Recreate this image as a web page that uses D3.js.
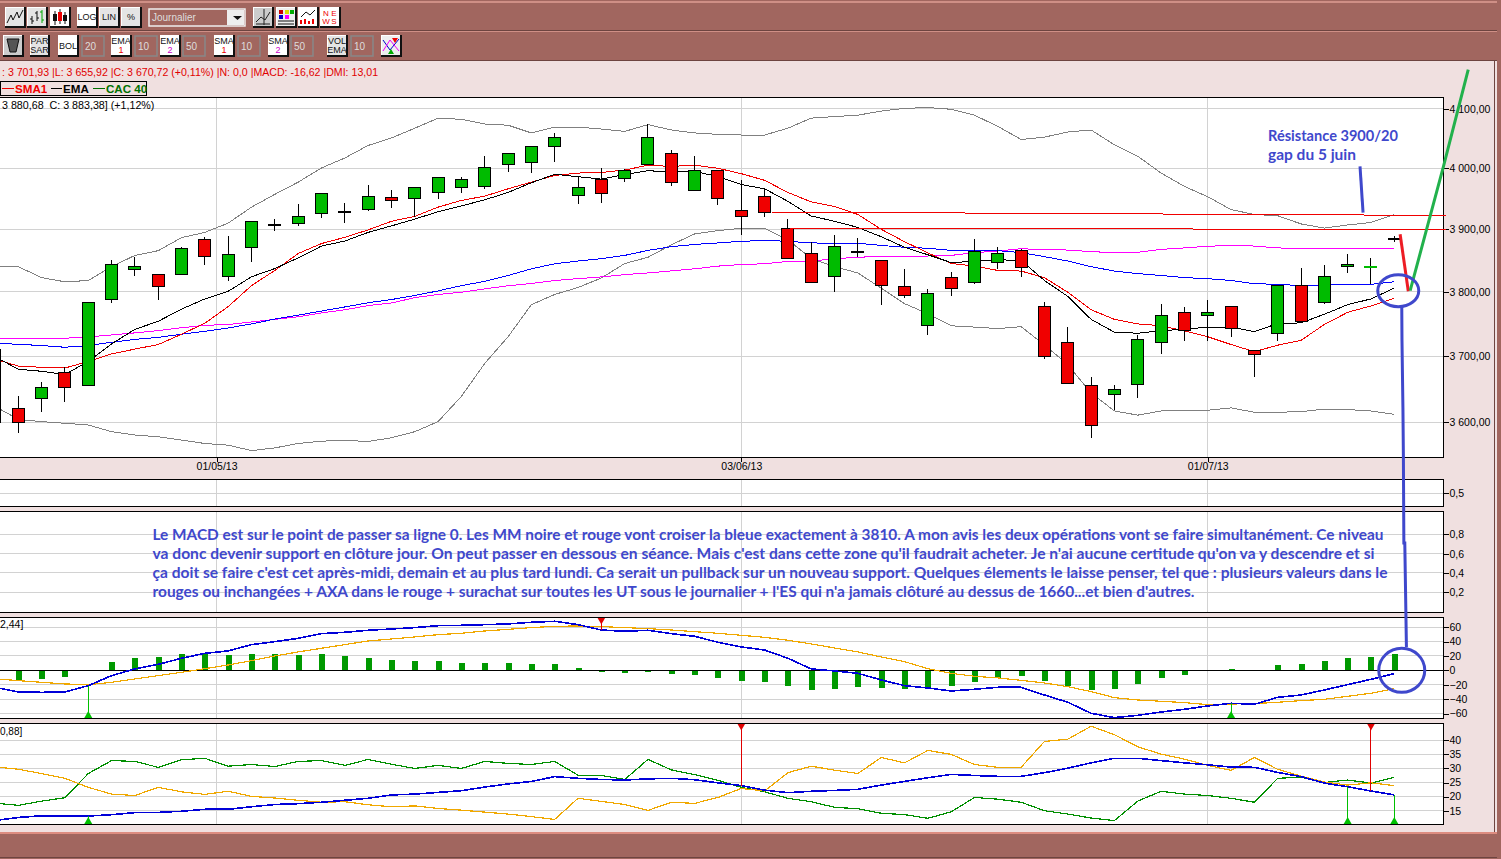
<!DOCTYPE html>
<html>
<head>
<meta charset="utf-8">
<title>CAC 40 journalier</title>
<script src="https://cdn.jsdelivr.net/npm/d3@7"></script>
<style>
  html, body { margin: 0; padding: 0; background: #f0e0e0; overflow: hidden; }
  text { font-family: "Liberation Sans", Arial, sans-serif; white-space: pre; }
</style>
</head>
<body>
<svg id="chart"></svg>
<script>
const width = 1501;
const height = 859;

// CANDLES, first one is cut by the left edge (index -1)
const candleOpen = [3600,3620,3635,3675,3656,3788,3835,3827,3827,3884,3825,3871,3908.5,3910,3925,3929,3932,3951,3950,3960,3969,3970,4007,4009,4037,3955,3982,3982.5,4007,4024,3964,3997,3931,3953,3902,3861,3824,3865,3850,3808,3748,3822.5,3815.5,3847,3866,3777,3721.5,3656,3642,3657.5,3721.5,3768,3763,3777,3709,3735,3810,3783,3840,3840,3885];
const candleHigh = [3710,3639,3660,3684,3783,3850.5,3856,3827,3871.5,3887,3889,3914,3916,3941,3958,3943,3973,3964,3968,3984,3986,4021,4024,4037,4059.5,3987,4000,3999,4074.5,4031,4021,3997,3981,3966,3917,3880,3891,3886,3850,3836,3804,3831,3884,3871.5,3869,3783.5,3745.5,3669,3656.5,3732,3780.5,3776,3787,3777,3709,3810,3838,3842,3859.5,3854,3889];
const candleLow = [3600,3584.5,3615,3631,3656,3782.5,3825,3787,3827,3843,3818,3847.5,3898,3905,3919,3910,3930,3935,3920,3950,3959,3965,3993,3991.5,4010,3941,3943,3977,4005.5,3970,3964,3939,3890,3920,3853,3814.5,3799.5,3855,3779,3790,3732,3793,3813,3836,3823,3696,3659,3576,3618.5,3637,3704,3724,3724,3730,3669,3723,3754,3781,3830,3812,3880];
const candleClose = [3710,3600,3653,3653,3783,3843.5,3840,3809,3869,3856,3860,3912,3908.5,3921,3958,3929,3954,3947,3968,3984,3981,4002,4024,4037,4052,3968.5,3958,3996,4052,3976,3997,3950,3921.5,3927,3853,3814.5,3873,3865,3810,3794,3797,3805,3864.5,3861,3839,3700,3659,3595.5,3650,3726,3763,3740,3768,3743,3703,3810,3754,3824,3843,3840.4,3885];

// PRICE OVERLAYS
const sma1 = [3695.5,3685,3683,3682,3692,3703.5,3711,3718,3734,3751,3777,3810,3834,3861,3877,3887,3899,3913,3921,3936,3947,3954,3966,3977,3988,3992,3993,3997,4005,4003,4005,4000,3991,3980,3960,3944.5,3937,3924,3900,3880,3862,3845,3841,3834,3833,3822.5,3799.5,3772,3757,3750,3747,3739,3730,3718,3707,3717,3724.5,3749,3768,3778,3790];
const ema1 = [3699.5,3680,3677,3672,3692,3719,3741.5,3754,3773,3789,3801,3824,3837,3854,3873,3881,3895,3905.5,3916.5,3928.5,3938,3948,3960,3976,3990,3986,3982,3989.5,3996,3993.5,3995,3986,3973,3966,3945.5,3921.5,3913,3903,3888,3871,3859,3846.5,3848.5,3851,3850,3818,3793,3757,3737,3735.5,3739.5,3741.5,3745,3745,3738,3750.5,3751.5,3765,3780,3789,3806];
const ema2 = [3720,3718.4,3716.4,3713.8,3716.4,3721.5,3726,3729,3734,3738.4,3743.6,3750,3757.4,3763.6,3770,3776.4,3783,3788,3794.4,3801.6,3810,3816.7,3826,3836.6,3844.6,3849,3852.7,3858,3866,3872,3875.6,3878,3880.6,3882,3880.6,3878,3877.5,3877.5,3874,3871,3869.5,3866,3865.6,3865.6,3862.4,3856,3849,3840,3833,3829,3826,3822.6,3821,3818,3813,3812,3810,3811,3811,3812,3816];
const sma2 = [3727.7,3726.6,3727,3727.7,3729.7,3732.8,3736,3739.5,3744,3747.7,3749,3753,3757,3761,3767,3772,3778.5,3782.6,3791,3796,3799.5,3804.8,3809.7,3813.4,3818,3821,3823.7,3827.4,3830,3833.3,3836.6,3840.9,3843.5,3844.6,3848.4,3849,3852.7,3855,3856.5,3857,3857,3858,3862.4,3865,3868.8,3867,3866.6,3864,3862.4,3863,3867.7,3870,3872.6,3874,3873,3870,3868.8,3869,3869,3869,3869];
const bolUp = [3840,3840,3822.6,3816,3818,3840,3858,3865.6,3886.6,3895,3910,3936,3957,3977,4000.5,4017,4038,4050.5,4067,4084,4082,4074,4072,4059,4069,4069,4065.5,4061.6,4073,4064,4059,4056.6,4055.5,4055.5,4067,4084,4086.7,4089,4096,4100.5,4102,4099,4089,4070,4048,4052,4060.5,4064,4039,4020,3992,3970,3953,3932,3924,3922,3908.7,3902,3907,3911,3924];
const bolLow = [3623.7,3604.5,3601,3598.5,3596,3586,3581,3578.5,3573.5,3568.5,3566,3558,3562,3568.5,3572,3573,3571.5,3577,3586,3601,3639,3689,3730,3780,3796,3807,3822,3845,3855,3875,3892.5,3898,3901.5,3901.5,3883,3853,3840,3830,3806,3781.5,3766,3747,3745,3742.7,3745.6,3717.4,3687,3644,3617,3610.7,3617,3617,3618,3621.6,3615,3615,3616,3619.7,3619,3617,3612];

// MACD PANEL
const macdLine = [-23.6,-30.1,-30.6,-30.1,-21.3,-7.4,1.9,8.3,16.7,23.6,26.9,35.7,39.8,44.4,50.9,52.8,55.6,57.4,59.3,62,62.5,63.4,64.4,66.7,68.1,63.4,56,54.2,55.6,50.9,47.2,38.9,32.4,28.2,16.7,1.9,-0.9,-4.2,-13.4,-21.3,-24.5,-28.7,-26.4,-23.6,-23.6,-34.3,-44.4,-59.7,-65.7,-62.5,-57.9,-54.2,-49.5,-45.8,-47.2,-37.5,-34.3,-27.3,-19.9,-12.5,-4.6];
const macdSignal = [-11.6,-14.4,-16.7,-19,-19.9,-16.7,-12,-7.4,-2.8,2.3,7.4,13.4,19.9,25.5,30.6,35.7,40.7,43.5,46.3,49.5,51.4,54.6,56.9,59.3,61.1,61.6,60.7,59.3,57.9,56,53.7,51.4,48.6,45.8,41.7,36.6,31,25.5,18.5,12,2.3,-4.2,-8.3,-10.6,-13.9,-17.6,-22.7,-29.6,-38,-41.2,-43,-44.9,-47.7,-46.8,-46.3,-44.4,-42.1,-40.3,-36.1,-31.9,-25.5];
const macdHist = [0,-13.4,-12,-9.2,0,11.5,17,18.5,22.7,23.6,21.3,22.7,22.7,21.3,22.7,19.9,17,14.4,13,13,10.2,10.2,10.2,8.8,8.8,3.2,-1.9,-3.2,-1.9,-4.6,-6,-10.2,-14.4,-15.7,-21.3,-26.8,-25.4,-22.7,-24,-25.4,-24,-21.3,-15.7,-11,-7.4,-14.4,-21.3,-26.8,-25.4,-18.5,-10.2,-6,0,1.9,0,7.4,8.8,13,17,18.5,22.7];
const macdUp = [3, 52];
const macdDown = [25];

// DMI PANEL
const diPlus = [17.7,16.9,18.4,19.6,28.2,32.8,32.5,30.4,33.1,33.6,30.8,31.4,30.7,32.5,32.8,31.1,33.2,31.5,30,31.1,30,32.5,31.8,31.4,32.5,27.6,27.5,26.1,33.2,29.5,27.8,25.8,23.3,21.7,19.4,18.2,16.2,15.7,14.1,13.6,12.3,14.6,19.7,19.1,18,15,13.8,12.4,11.5,18.4,21.9,20.9,20.4,19.4,18,26.5,26.9,25,25.9,24.8,26.9];
const diMinus = [30.6,29.7,28.2,26.5,23.3,20.9,20.4,23.3,21.7,20.8,21.9,20.1,19.5,18.7,18,18.2,17.1,16.4,16.7,15.8,15.2,14.5,13.8,12.9,11.9,19.4,18.3,17.2,15.1,18,17.6,19.7,22.9,22,28.5,30.8,29.4,28.2,33.9,32,36.4,35,31.4,30.4,30.4,39.6,40.4,45,42,37.7,35.1,33.3,31.1,29.3,33.9,29.7,27.3,25.2,24.1,24.9,23.9];
const adx = [11.5,12.6,13.2,13.2,13.1,13.6,14.3,14.4,14.8,15.5,15.5,16.4,17.2,17.5,18,18.7,19.4,20.6,20.9,21.5,22.1,23.4,24.5,25.4,27.1,26.5,26.1,25.9,26.3,26.5,26,24.9,23.9,22.3,21.4,21.9,22.2,22.6,24.1,25.4,26.7,27.9,27.5,27.2,27.2,28.5,30.1,32,33.6,33.6,32.8,32,31.3,30.5,30.4,28.6,27.1,24.8,23.5,22,20.6];
const dmiUp = [3, 57, 59];
const dmiDown = [31, 58];

// TICKS
const priceTicks = [3600, 3700, 3800, 3900, 4000, 4100];
const macdTicks = [-60, -40, -20, 0, 20, 40, 60];
const dmiTicks = [15, 20, 25, 30, 35, 40];
const midTicks = [0.2, 0.4, 0.6, 0.8];
const topTicks = [0.5];
const dateIndex = [8.5, 31, 51];
const dateLabels = ["01/05/13", "03/06/13", "01/07/13"];

// HAND DRAWN NOTES, as [candle index, value]
const resistHigh = [[32.3, 3928], [61.2, 3922.5]];
const resistLow = [[33.1, 3902], [61.2, 3899.5]];
const penRed = [[59.25, 3892], [59.6, 3801]];
const penGreen = [[59.68, 3802], [61.1, 4002], [62.17, 4167]];
const penShort = [[57.53, 4003], [57.66, 3927]];
const penDropPrice = [[59.32, 3777], [59.33, 3723.6], [59.37, 3622], [59.39, 3547]];
const penDropMid = [[59.41, 0.71], [59.45, 0.71]];
const penDropMacd = [[59.52, 32]];
const noteResist = ["Résistance 3900/20", "gap du 5 juin"];
const noteLines = [
  "Le MACD est sur le point de passer sa ligne 0. Les MM noire et rouge vont croiser la bleue exactement à 3810. A mon avis les deux opérations vont se faire simultanément. Ce niveau",
  "va donc devenir support en clôture jour. On peut passer en dessous en séance. Mais c'est dans cette zone qu'il faudrait acheter. Je n'ai aucune certitude qu'on va y descendre et si",
  "ça doit se faire c'est cet après-midi, demain et au plus tard lundi. Ca serait un pullback sur un nouveau support. Quelques élements le laisse penser, tel que : plusieurs valeurs dans le",
  "rouges ou inchangées + AXA dans le rouge + surachat sur toutes les UT sous le journalier + l'ES qui n'a jamais clôturé au dessus de 1660...et bien d'autres."
];
const noteWidths = [1231, 1222, 1235, 1042];

const brown = "#a1665f";
const pink = "#f0e0e0";
const gridColor = "#d2d2d2";
const penBlue = "#3f48cc";
const candleGreen = "#00bb00";
const candleRed = "#f00000";
const plotRight = 1443.5;

const svg = d3.select("#chart")
  .attr("width", width)
  .attr("height", height)
  .attr("viewBox", [0, 0, width, height])
  .style("display", "block");

// Shared x scale, one unit is one trading day
const x = d3.scaleLinear().domain([0, 59]).range([18.3, 1394.3]);
const series = i => i - 1; // position in the arrays -> candle index

const y = d3.scaleLog().domain([4100, 3600]).range([108.7, 422.3]);
const yTop = d3.scaleLinear().domain([0, 1]).range([507.5, 479.1]);
const yMid = d3.scaleLinear().domain([0, 0.8]).range([611.6, 534.3]);
const yMacd = d3.scaleLinear().domain([0, 60]).range([670.3, 627.1]);
const yDmi = d3.scaleLinear().domain([15, 40]).range([810.7, 740.3]);

const fr = d3.formatLocale({ decimal: ",", thousands: " ", grouping: [3], currency: ["", ""] });

// ---- window background and toolbars ----
svg.append("rect").attr("width", width).attr("height", height).attr("fill", pink);
svg.append("rect").attr("width", width).attr("height", 61).attr("fill", brown);
svg.append("rect").attr("y", 1).attr("width", width).attr("height", 2).attr("fill", "#cf8f86");
svg.append("rect").attr("y", 30).attr("width", width).attr("height", 1).attr("fill", "#6d4440");
svg.append("rect").attr("y", 31).attr("width", width).attr("height", 1).attr("fill", "#cf8f86");
svg.append("rect").attr("y", 60).attr("width", width).attr("height", 1).attr("fill", "#6d4440");
svg.append("rect").attr("y", 832).attr("width", width).attr("height", 27).attr("fill", brown);
svg.append("rect").attr("y", 832).attr("width", width).attr("height", 2).attr("fill", "#dd8c80");
svg.append("rect").attr("y", 857).attr("width", width).attr("height", 1).attr("fill", "#6d4440");
svg.append("rect").attr("x", 1494).attr("width", 1).attr("y", 61).attr("height", 771).attr("fill", "#6d4440");
svg.append("rect").attr("x", 1497).attr("width", 4).attr("y", 0).attr("height", height).attr("fill", brown);

const toolbar = svg.append("g");

function button(bx, by, w, h, bg) {
  const g = toolbar.append("g").attr("transform", `translate(${bx},${by})`);
  g.append("rect").attr("width", w).attr("height", h).attr("fill", bg).attr("stroke", "#fff").attr("shape-rendering", "crispEdges");
  g.append("path").attr("d", `M${w} 0V${h}H0`).attr("fill", "none").attr("stroke", "#111").attr("stroke-width", 2).attr("shape-rendering", "crispEdges");
  return g;
}

function label(g, lines, w, h, color) {
  const step = 9;
  lines.forEach((s, i) => {
    g.append("text")
      .attr("x", w / 2)
      .attr("y", h / 2 + 3 + (i - (lines.length - 1) / 2) * step)
      .attr("text-anchor", "middle")
      .attr("font-size", 9)
      .attr("fill", i === 1 && color ? color : "#111")
      .text(s);
  });
}

function field(fx, by, w, s) {
  toolbar.append("rect").attr("x", fx).attr("y", by).attr("width", w).attr("height", 20)
    .attr("fill", brown).attr("stroke", "#888").attr("stroke-width", 1.5);
  toolbar.append("text").attr("x", fx + 3).attr("y", by + 14).attr("font-size", 10).attr("fill", "#ddd").text(s);
}

// first row
let b = button(5, 7, 20, 20, "#e4e4e4");
b.append("path").attr("d", "M2 16L6 8L8 13L12 5L14 11L18 3").attr("fill", "none").attr("stroke", "#111");
b = button(27, 7, 20, 20, "#e4e4e4");
b.append("path").attr("d", "M5 9V17M5 12H3M5 14H7M10 4V14M10 6H8M10 11H12").attr("fill", "none").attr("stroke", "#111");
b.append("path").attr("d", "M15 3V16M15 5H13M15 13H17").attr("fill", "none").attr("stroke", "#0a0");
b = button(50, 7, 20, 20, "#fff");
b.append("path").attr("d", "M5 4V18M10 2V17M15 5V17").attr("fill", "none").attr("stroke", "#111");
b.append("rect").attr("x", 3).attr("y", 7).attr("width", 4).attr("height", 7).attr("fill", "#111");
b.append("rect").attr("x", 8).attr("y", 5).attr("width", 4).attr("height", 9).attr("fill", "#e00");
b.append("rect").attr("x", 13).attr("y", 8).attr("width", 4).attr("height", 6).attr("fill", "#111");
[[77, "LOG", "#fff"], [99, "LIN", "#e4e4e4"], [121, "%", "#e4e4e4"]].forEach(d => {
  label(button(d[0], 7, 20, 20, d[2]), [d[1]], 20, 20);
});

toolbar.append("rect").attr("x", 149).attr("y", 9).attr("width", 96).attr("height", 17)
  .attr("fill", brown).attr("stroke", "#eee").attr("stroke-width", 1.5);
toolbar.append("rect").attr("x", 227).attr("y", 10).attr("width", 17).attr("height", 15).attr("fill", "#eee");
toolbar.append("path").attr("d", "M233 16h9l-4.5 4z").attr("fill", "#111");
toolbar.append("text").attr("x", 152).attr("y", 21).attr("font-size", 10).attr("fill", "#ddd").text("Journalier");

b = button(253, 7, 20, 20, "#ccc");
b.append("path").attr("d", "M3 15L8 10L12 13L17 5M3 17H17M11 2V18").attr("fill", "none").attr("stroke", "#222");
b = button(276, 7, 20, 20, "#eee");
[["#c00", 3, 3], ["#dd0", 9, 3], ["#00c", 3, 8], ["#f0f", 9, 8], ["#0a0", 14, 3]].forEach(d => {
  b.append("rect").attr("x", d[1]).attr("y", d[2]).attr("width", 4).attr("height", 4).attr("fill", d[0]);
});
b.append("path").attr("d", "M2 14H18M2 17H18").attr("stroke", "#111");
b = button(298, 7, 20, 20, "#fff");
b.append("path").attr("d", "M3 10L8 5L12 8L17 3").attr("fill", "none").attr("stroke", "#111");
b.append("path").attr("d", "M3 17V13M7 17V12M11 17V14M15 17V12").attr("stroke", "#e00").attr("stroke-width", 2);
b = button(320, 7, 20, 20, "#fff");
[["N", 6, 9], ["E", 14, 9], ["W", 6, 17], ["S", 14, 17]].forEach(d => {
  b.append("text").attr("x", d[1]).attr("y", d[2]).attr("text-anchor", "middle").attr("font-size", 8).attr("fill", "#e00").text(d[0]);
});

// second row
b = button(3, 35, 20, 21, "#ccc");
b.append("path").attr("d", "M4 4H16L13 17H7Z").attr("fill", "#555").attr("stroke", "#111");
label(button(30, 35, 19, 21, "#e4e4e4"), ["PAR", "SAR"], 19, 21);
label(button(58, 35, 20, 21, "#fff"), ["BOL"], 20, 21);
field(82, 36, 22, "20");
label(button(111, 35, 20, 21, "#fff"), ["EMA", "1"], 20, 21, "#e00");
field(135, 36, 22, "10");
label(button(160, 35, 20, 21, "#fff"), ["EMA", "2"], 20, 21, "#c0c");
field(183, 36, 22, "50");
label(button(214, 35, 20, 21, "#fff"), ["SMA", "1"], 20, 21, "#e00");
field(238, 36, 22, "10");
label(button(268, 35, 20, 21, "#fff"), ["SMA", "2"], 20, 21, "#c0c");
field(291, 36, 22, "50");
label(button(327, 35, 20, 21, "#e4e4e4"), ["VOL", "EMA"], 20, 21);
field(351, 36, 22, "10");
b = button(381, 35, 20, 21, "#eee");
b.append("path").attr("d", "M2 5L9 15L18 4").attr("fill", "none").attr("stroke", "#00c");
b.append("path").attr("d", "M2 16L9 5L18 16").attr("fill", "none").attr("stroke", "#e0f");
b.append("path").attr("d", "M7 19h6l-3-5z").attr("fill", "#0a0");
b.append("path").attr("d", "M11 3h6l-3 5z").attr("fill", "#e00");

// ---- status line and legend ----
svg.append("text").attr("x", 2).attr("y", 75.5).attr("font-size", 10.6).attr("fill", "#e00000")
  .text(": 3 701,93 |L: 3 655,92 |C: 3 670,72 (+0,11%) |N: 0,0 |MACD: -16,62 |DMI: 13,01");

// ---- panels ----
function panel(top, bottom, scale, ticks, format) {
  const g = svg.append("g");
  g.append("rect").attr("x", -2).attr("y", top).attr("width", plotRight + 2).attr("height", bottom - top).attr("fill", "#fff");

  // grid
  g.append("g").selectAll("line").data(ticks).join("line")
    .attr("x1", 0).attr("x2", plotRight)
    .attr("y1", d => scale(d)).attr("y2", d => scale(d))
    .attr("stroke", gridColor).attr("stroke-width", 1).attr("shape-rendering", "crispEdges");
  g.append("g").selectAll("line").data(dateIndex).join("line")
    .attr("x1", d => x(d)).attr("x2", d => x(d))
    .attr("y1", top).attr("y2", bottom)
    .attr("stroke", gridColor).attr("stroke-width", 1).attr("shape-rendering", "crispEdges");

  // axis
  const axis = g.append("g")
    .attr("transform", `translate(${plotRight},0)`)
    .call(d3.axisRight(scale).tickValues(ticks).tickFormat(format).tickSize(5).tickPadding(1));
  axis.select(".domain").remove();
  axis.selectAll("text").attr("font-size", 10.5).attr("font-family", null).attr("fill", "#000");
  axis.selectAll("line").attr("stroke", "#000").attr("shape-rendering", "crispEdges");

  return g;
}

function frame(top, bottom) {
  svg.append("rect").attr("x", -2).attr("y", top).attr("width", plotRight + 2).attr("height", bottom - top)
    .attr("fill", "none").attr("stroke", "#000").attr("stroke-width", 1.3).attr("shape-rendering", "crispEdges");
}

function drawLine(g, values, scale, color, w) {
  const line = d3.line().x((d, i) => x(series(i))).y(d => scale(d));
  g.append("path").datum(values).attr("d", line)
    .attr("fill", "none").attr("stroke", color).attr("stroke-width", w || 1)
    .attr("shape-rendering", "crispEdges");
}

// price panel
const pricePanel = panel(97.5, 457.5, y, priceTicks, fr.format(",.2f"));
const dateAxis = svg.append("g")
  .attr("transform", "translate(0,457.5)")
  .call(d3.axisBottom(x).tickValues(dateIndex).tickFormat((d, i) => dateLabels[i]).tickSize(4).tickPadding(1));
dateAxis.select(".domain").remove();
dateAxis.selectAll("text").attr("font-size", 10.5).attr("font-family", null).attr("fill", "#000");
dateAxis.selectAll("line").attr("stroke", "#000").attr("shape-rendering", "crispEdges");

drawLine(pricePanel, bolUp, y, "#808080");
drawLine(pricePanel, bolLow, y, "#808080");
drawLine(pricePanel, sma2, y, "#ff00ff");
drawLine(pricePanel, ema2, y, "#0000ff");
drawLine(pricePanel, sma1, y, "#f00000");
drawLine(pricePanel, ema1, y, "#000");

// candles, floor gives the same 23/23/24 pixel rhythm as the platform
const candleX = i => Math.floor(x(series(i)));
const candles = pricePanel.append("g").selectAll("g").data(candleOpen).join("g")
  .attr("shape-rendering", "crispEdges");

candles.append("line")
  .attr("x1", (d, i) => candleX(i) + 0.5)
  .attr("x2", (d, i) => candleX(i) + 0.5)
  .attr("y1", (d, i) => y(candleHigh[i]))
  .attr("y2", (d, i) => y(candleLow[i]))
  .attr("stroke", "#000")
  .attr("stroke-width", 1);

candles.append("rect")
  .attr("x", (d, i) => candleX(i) - 5.5)
  .attr("width", 12)
  .attr("y", (d, i) => y(Math.max(d, candleClose[i])))
  .attr("height", (d, i) => Math.max(Math.abs(y(d) - y(candleClose[i])), 1))
  .attr("fill", (d, i) => d === candleClose[i] ? "#000" : candleClose[i] > d ? candleGreen : candleRed)
  .attr("stroke", (d, i) => {
    // thin green body of the running candle has no outline
    const diff = Math.abs(y(d) - y(candleClose[i]));
    return diff > 0 && diff < 1 ? candleGreen : "#000";
  })
  .attr("stroke-width", 1);

svg.append("text").attr("x", 2).attr("y", 108.5).attr("font-size", 10.7).attr("fill", "#000")
  .text("3 880,68  C: 3 883,38] (+1,12%)");

// two thin panels, the second one holds the written comment
const topPanel = panel(479.3, 506.5, yTop, topTicks, d => String(d).replace(".", ","));
const midPanel = panel(511.3, 612.3, yMid, midTicks, d => String(d).replace(".", ","));

// macd panel
const macdPanel = panel(617.3, 718.3, yMacd, macdTicks, d3.format("d"));
macdPanel.append("g").selectAll("rect").data(macdHist).join("rect")
  .attr("x", (d, i) => candleX(i) - 2)
  .attr("width", 6)
  .attr("y", d => yMacd(Math.max(d, 0)))
  .attr("height", d => Math.abs(yMacd(d) - yMacd(0)))
  .attr("fill", "#009900")
  .attr("shape-rendering", "crispEdges");
macdPanel.append("line").attr("x1", 0).attr("x2", plotRight)
  .attr("y1", yMacd(0)).attr("y2", yMacd(0)).attr("stroke", "#000").attr("stroke-width", 1.2)
  .attr("shape-rendering", "crispEdges");
drawLine(macdPanel, macdSignal, yMacd, "#f0a800", 1.2);
drawLine(macdPanel, macdLine, yMacd, "#0000d8", 1.6);

// dmi panel
const dmiPanel = panel(723.3, 824.3, yDmi, dmiTicks, d3.format("d"));
drawLine(dmiPanel, diPlus, yDmi, "#008f00", 1.2);
drawLine(dmiPanel, diMinus, yDmi, "#f0a800", 1.2);
drawLine(dmiPanel, adx, yDmi, "#0000d8", 1.6);

// crossing signals: a stem from the edge of the panel with an arrow head
function signals(g, idx, values, scale, edge, color, dir) {
  g.append("g").selectAll("line").data(idx).join("line")
    .attr("x1", d => x(d)).attr("x2", d => x(d))
    .attr("y1", d => scale(values[d + 1])).attr("y2", edge)
    .attr("stroke", color).attr("shape-rendering", "crispEdges");
  g.append("g").selectAll("path").data(idx).join("path")
    .attr("d", d => `M${x(d) - 4} ${edge}h8l-4 ${dir * 7}z`)
    .attr("fill", color);
}
signals(macdPanel, macdUp, macdLine, yMacd, 718, "#00c000", -1);
signals(macdPanel, macdDown, macdLine, yMacd, 617.5, "#e00000", 1);
signals(dmiPanel, dmiUp, adx, yDmi, 824, "#00c000", -1);
signals(dmiPanel, dmiDown, adx, yDmi, 723.5, "#e00000", 1);

[[97.5, 457.5], [479.3, 506.5], [511.3, 612.3], [617.3, 718.3], [723.3, 824.3]].forEach(d => frame(d[0], d[1]));

svg.append("text").attr("x", 0).attr("y", 628).attr("font-size", 10.5).attr("fill", "#000").text("2,44]");
svg.append("text").attr("x", 0).attr("y", 735).attr("font-size", 10).attr("fill", "#000").text("0,88]");

// legend comes last so that its box is not hidden
const legend = svg.append("g");
legend.append("rect").attr("x", 0.5).attr("y", 81.5).attr("width", 146).attr("height", 14)
  .attr("fill", pink).attr("stroke", "#000").attr("stroke-width", 1).attr("shape-rendering", "crispEdges");
[["SMA1", "#f00000", 2, 15], ["EMA", "#000", 51, 63], ["CAC 40", "#007000", 93, 106]].forEach(d => {
  legend.append("path").attr("d", `M${d[2]} 88.5H${d[3] - 1}`).attr("stroke", d[1]).attr("shape-rendering", "crispEdges");
  legend.append("text").attr("x", d[3]).attr("y", 92.5).attr("font-size", 11.6).attr("font-weight", "bold").attr("fill", d[1]).text(d[0]);
});

// ---- hand drawn notes ----
const notes = svg.append("g");
const penLine = d3.line().x(d => x(d[0])).y(d => y(d[1]));

[resistHigh, resistLow].forEach(d => {
  notes.append("path").attr("d", penLine(d)).attr("fill", "none").attr("stroke", "#f00000").attr("stroke-width", 1)
    .attr("shape-rendering", "crispEdges");
});
notes.append("path").attr("d", penLine(penRed)).attr("fill", "none").attr("stroke", "#ed1c24").attr("stroke-width", 3);
notes.append("path").attr("d", penLine(penGreen)).attr("fill", "none").attr("stroke", "#22b14c").attr("stroke-width", 3);
notes.append("path").attr("d", penLine(penShort)).attr("fill", "none").attr("stroke", penBlue).attr("stroke-width", 3);

// long stroke that goes from the price circle to the macd circle
const dropPoints = [
  ...penDropPrice.map(d => [x(d[0]), y(d[1])]),
  ...penDropMid.map(d => [x(d[0]), yMid(d[1])]),
  ...penDropMacd.map(d => [x(d[0]), yMacd(d[1])])
];
notes.append("path").attr("d", d3.line()(dropPoints)).attr("fill", "none").attr("stroke", penBlue).attr("stroke-width", 3);

notes.append("ellipse").attr("cx", x(59.17)).attr("cy", y(3802)).attr("rx", 20.5).attr("ry", 16)
  .attr("fill", "none").attr("stroke", penBlue).attr("stroke-width", 3);
notes.append("ellipse").attr("cx", x(59.32)).attr("cy", yMacd(0)).attr("rx", 23).attr("ry", 22)
  .attr("fill", "none").attr("stroke", penBlue).attr("stroke-width", 3);

noteResist.forEach((s, i) => {
  notes.append("text").attr("x", 1268).attr("y", 141 + i * 19.3)
    .style("font-family", "Lato").attr("font-weight", "bold").attr("font-size", 14.5).attr("fill", penBlue)
    .attr("textLength", i === 0 ? 130 : 88).attr("lengthAdjust", "spacingAndGlyphs").text(s);
});
noteLines.forEach((s, i) => {
  notes.append("text").attr("x", 152.5).attr("y", 539.5 + i * 19.1)
    .style("font-family", "Lato").attr("font-weight", "bold").attr("font-size", 14.5).attr("fill", penBlue)
    .attr("textLength", noteWidths[i]).attr("lengthAdjust", "spacingAndGlyphs").text(s);
});
</script>
</body>
</html>
